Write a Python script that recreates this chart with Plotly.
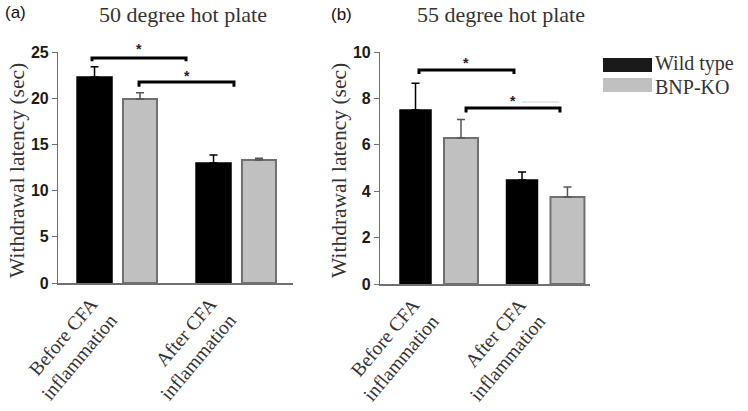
import plotly.graph_objects as go

W, H = 748, 411

categories = ["Before CFA<br>inflammation", "After CFA<br>inflammation"]
series_names = ["Wild type", "BNP-KO"]

wt_50 = [22.3, 13.0]
wt_50_err = [1.1, 0.85]
ko_50 = [19.9, 13.3]
ko_50_err = [0.7, 0.2]

wt_55 = [7.5, 4.48]
wt_55_err = [1.15, 0.35]
ko_55 = [6.29, 3.75]
ko_55_err = [0.8, 0.43]

titles = ["50 degree hot plate", "55 degree hot plate"]
panel_labels = ["(a)", "(b)"]

BLACK = "#000000"
GRAY = "#c0c0c0"
GRAY_LINE = "#707070"
SERIF = "Liberation Serif"
SANS = "Liberation Sans"

def px(x):
    return x / W

def py(y):
    return 1 - y / H

fig = go.Figure()

panels = [
    dict(xa="x", ya="y", wt=wt_50, wte=wt_50_err, ko=ko_50, koe=ko_50_err,
         wt_off=-0.336, wt_w=0.294, ko_off=0.05, ko_w=0.286),
    dict(xa="x2", ya="y2", wt=wt_55, wte=wt_55_err, ko=ko_55, koe=ko_55_err,
         wt_off=-0.366, wt_w=0.291, ko_off=0.047, ko_w=0.319),
]

for p in panels:
    fig.add_trace(go.Bar(
        x=categories, y=p["wt"], name=series_names[0], xaxis=p["xa"], yaxis=p["ya"],
        offset=p["wt_off"], width=p["wt_w"],
        marker=dict(color=BLACK, line=dict(color=BLACK, width=1.5)),
        error_y=dict(type="data", array=p["wte"], arrayminus=[0, 0], symmetric=False,
                     color=BLACK, thickness=1.5, width=4),
        showlegend=False))
    fig.add_trace(go.Bar(
        x=categories, y=p["ko"], name=series_names[1], xaxis=p["xa"], yaxis=p["ya"],
        offset=p["ko_off"], width=p["ko_w"],
        marker=dict(color=GRAY, line=dict(color=GRAY_LINE, width=2)),
        error_y=dict(type="data", array=p["koe"], arrayminus=[0, 0], symmetric=False,
                     color="#555555", thickness=1.5, width=4),
        showlegend=False))

ydom_a = [py(283), py(52)]
ydom_b = [py(284), py(52)]

xcommon = dict(type="category", showline=True, linecolor="#707070", linewidth=1.5,
               ticks="", tickangle=-50, showgrid=False, zeroline=False, automargin=False,
               ticklabelshift=-26, ticklabelstandoff=0,
               tickfont=dict(family=SERIF, size=19.5, color="#333333"))
ycommon = dict(showline=True, linecolor="#707070", linewidth=1.2, ticks="outside",
               ticklen=5, tickcolor="#707070", showgrid=False, zeroline=False, automargin=False,
               tickfont=dict(family=SANS, size=16, color="#1a1a1a", weight="bold"))

fig.update_layout(
    template="none",
    width=W, height=H, autosize=False,
    margin=dict(l=0, r=0, t=0, b=0, pad=0),
    paper_bgcolor="white", plot_bgcolor="white",
    barmode="overlay",
    xaxis=dict(xcommon, domain=[px(58), px(293)], range=[-0.496, 1.479], anchor="y"),
    yaxis=dict(ycommon, domain=ydom_a, range=[0, 25], dtick=5, anchor="x"),
    xaxis2=dict(xcommon, domain=[px(380), px(590)], range=[-0.554, 1.418], anchor="y2"),
    yaxis2=dict(ycommon, domain=ydom_b, range=[0, 10], dtick=2, anchor="x2"),
)

# significance brackets: (xaxis, yaxis, x0, x1, y, drop, star pixel row)
brackets = [
    ("x", "y", -0.21, 0.58, 24.35, 0.35, 49),
    ("x", "y", 0.185, 0.983, 21.75, 0.5, 76),
    ("x2", "y2", -0.188, 0.704, 9.22, 0.17, 63),
    ("x2", "y2", 0.254, 1.136, 7.59, 0.2, 101),
]
shapes = []
annotations = []
for xa, ya, x0, x1, y, d, sy in brackets:
    shapes.append(dict(type="path", xref=xa, yref=ya,
                       path=f"M {x0},{y-d} L {x0},{y} L {x1},{y} L {x1},{y-d}",
                       line=dict(color=BLACK, width=3)))
    annotations.append(dict(x=(x0 + x1) / 2, y=py(sy), xref=xa, yref="paper", text="<b>*</b>",
                            xanchor="center", yanchor="middle",
                            showarrow=False, font=dict(family=SANS, size=14, color="#222")))

# faint line next to second star in panel b
shapes.append(dict(type="line", xref="x2", yref="paper", x0=0.78, x1=1.13, y0=py(102), y1=py(102),
                   line=dict(color="#d0d0d0", width=1)))

def note(x, y, text, font, **kw):
    d = dict(x=px(x), y=py(y), xref="paper", yref="paper", text=text, showarrow=False,
             xanchor="center", yanchor="middle", font=font)
    d.update(kw)
    return d

tfont = dict(family=SERIF, size=22, color="#333333")
lfont = dict(family=SERIF, size=20, color="#333333")
annotations += [
    note(183, 15, titles[0], tfont),
    note(501, 15, titles[1], tfont),
    note(16, 13, panel_labels[0], dict(family=SANS, size=17, color="#111")),
    note(341, 15, panel_labels[1], dict(family=SANS, size=17, color="#111")),
    note(17, 171, "Withdrawal latency (sec)", dict(family=SERIF, size=21.5, color="#333333"),
         textangle=-90),
    note(339, 171, "Withdrawal latency (sec)", dict(family=SERIF, size=21.5, color="#333333"),
         textangle=-90),
]

# legend
shapes += [
    dict(type="rect", xref="paper", yref="paper", x0=px(603), x1=px(652), y0=py(72), y1=py(58),
         fillcolor="#1a1a1a", line=dict(width=0)),
    dict(type="rect", xref="paper", yref="paper", x0=px(603), x1=px(652), y0=py(92), y1=py(78),
         fillcolor=GRAY, line=dict(width=0)),
]
annotations += [
    note(653, 63, series_names[0], lfont, xanchor="left"),
    note(653, 87, series_names[1], lfont, xanchor="left"),
]

fig.update_layout(shapes=shapes, annotations=annotations)
fig.write_html("out.html", config={"displayModeBar": False},
               post_script="document.body.style.margin='0';document.body.style.padding='0';")
